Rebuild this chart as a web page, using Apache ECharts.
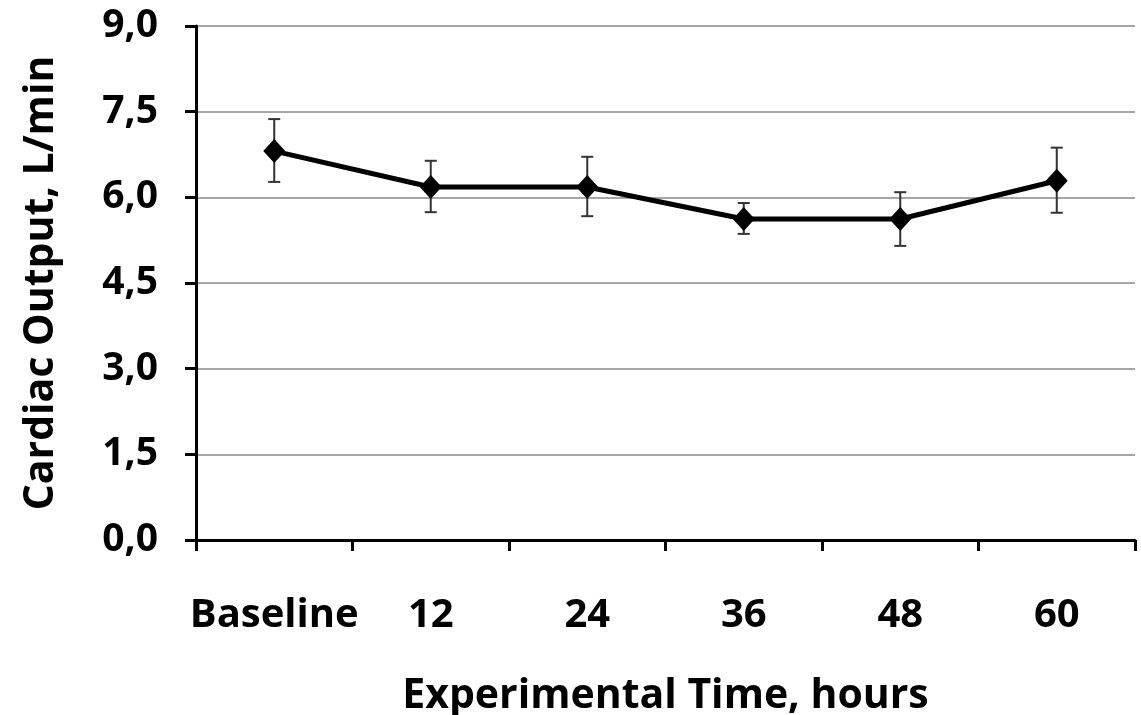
<!DOCTYPE html>
<html>
<head>
<meta charset="utf-8">
<script src="https://cdn.jsdelivr.net/npm/echarts@6/dist/echarts.min.js"></script>
<style>
  html, body { margin: 0; padding: 0; background: #fff; }
  #chart { width: 1141px; height: 715px; }
</style>
</head>
<body>
<div id="chart"></div>
<script>
// data
var categories = ['Baseline', '12', '24', '36', '48', '60'];
var meanValues = [6.81, 6.18, 6.18, 5.62, 5.62, 6.29];
var errLow    = [6.27, 5.74, 5.67, 5.36, 5.15, 5.73];
var errHigh   = [7.37, 6.64, 6.71, 5.90, 6.09, 6.87];

var FONT = '"Open Sans", "DejaVu Sans", sans-serif';

var errData = categories.map(function (c, i) {
    return [i, errLow[i], errHigh[i]];
});

echarts.init(document.getElementById('chart')).setOption({
    animation: false,
    grid: {
        left: 196,
        right: 6,
        top: 26,
        bottom: 175,
        outerBoundsMode: 'none'
    },
    xAxis: {
        type: 'category',
        data: categories,
        name: 'Experimental Time, hours',
        nameLocation: 'middle',
        nameGap: 136,
        nameTextStyle: { fontFamily: FONT, fontWeight: 'bold', fontSize: 41, color: '#000' },
        axisLine: { lineStyle: { color: '#000', width: 3 } },
        axisTick: { show: true, interval: 0, length: 11, lineStyle: { color: '#000', width: 3 } },
        axisLabel: { interval: 0, margin: 56, fontFamily: FONT, fontWeight: 'bold', fontSize: 40, color: '#000' }
    },
    yAxis: {
        type: 'value',
        min: 0,
        max: 9,
        interval: 1.5,
        name: 'Cardiac Output, L/min',
        nameLocation: 'middle',
        nameGap: 134,
        nameTextStyle: { fontFamily: FONT, fontWeight: 'bold', fontSize: 41, color: '#000' },
        axisLine: { show: true, lineStyle: { color: '#000', width: 3 } },
        axisTick: { show: true, length: 11, lineStyle: { color: '#000', width: 3 } },
        splitLine: { lineStyle: { color: '#a6a6a6', width: 2 } },
        axisLabel: {
            margin: 38,
            fontFamily: FONT, fontWeight: 'bold', fontSize: 39, color: '#000',
            formatter: function (v) { return v.toFixed(1).replace('.', ','); }
        }
    },
    series: [
        {
            type: 'custom',
            data: errData,
            z: 1,
            renderItem: function (params, api) {
                var x = api.value(0);
                var lo = api.coord([x, api.value(1)]);
                var hi = api.coord([x, api.value(2)]);
                var w = 6;
                var style = { stroke: '#333', lineWidth: 2 };
                return {
                    type: 'group',
                    children: [
                        { type: 'line', shape: { x1: lo[0], y1: lo[1], x2: hi[0], y2: hi[1] }, style: style },
                        { type: 'line', shape: { x1: hi[0] - w, y1: hi[1], x2: hi[0] + w, y2: hi[1] }, style: style },
                        { type: 'line', shape: { x1: lo[0] - w, y1: lo[1], x2: lo[0] + w, y2: lo[1] }, style: style }
                    ]
                };
            }
        },
        {
            type: 'line',
            data: meanValues,
            z: 2,
            symbol: 'diamond',
            symbolSize: [22, 24],
            itemStyle: { color: '#000' },
            lineStyle: { color: '#000', width: 5 }
        }
    ]
});
</script>
</body>
</html>
